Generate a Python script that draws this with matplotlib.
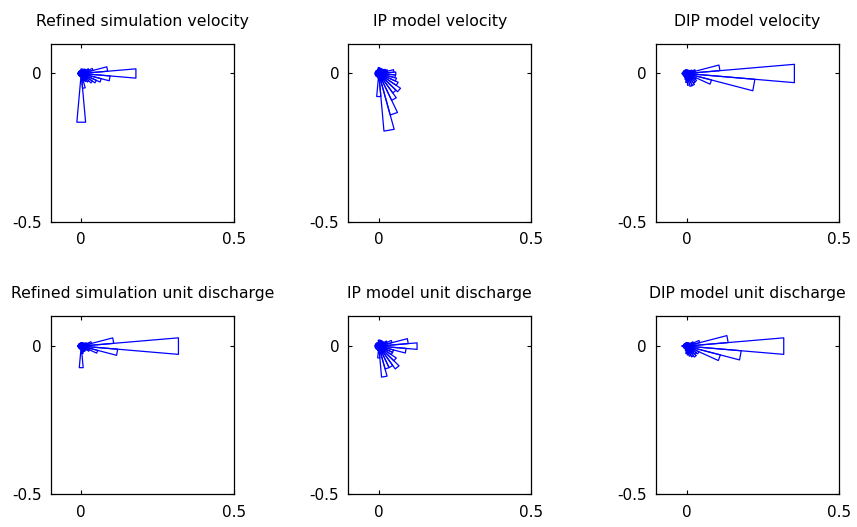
import numpy as np
import matplotlib.pyplot as plt

# ==========================
# DATA (rose histograms, 36 bins of 10 deg, centres 0..350 deg ccw from east)
# ==========================

bin_centres_deg = list(range(0, 360, 10))
bin_width_deg = 10

titles = [
    "Refined simulation velocity",
    "IP model velocity",
    "DIP model velocity",
    "Refined simulation unit discharge",
    "IP model unit discharge",
    "DIP model unit discharge",
]

refined_velocity = [
    0.18, 0.087, 0.040, 0.028, 0.020, 0.018, 0.016, 0.015, 0.014, 0.015,
    0.010, 0.010, 0.010, 0.010, 0.010, 0.010, 0.010, 0.010, 0.012, 0.010,
    0.010, 0.010, 0.010, 0.010, 0.010, 0.010, 0.012, 0.165, 0.050, 0.025,
    0.030, 0.035, 0.045, 0.055, 0.068, 0.095,
]

ip_velocity = [
    0.056, 0.050, 0.030, 0.025, 0.020, 0.018, 0.018, 0.018, 0.018, 0.020,
    0.015, 0.012, 0.012, 0.012, 0.012, 0.012, 0.012, 0.012, 0.012, 0.012,
    0.012, 0.012, 0.012, 0.012, 0.012, 0.012, 0.015, 0.078, 0.195, 0.145,
    0.100, 0.080, 0.087, 0.070, 0.060, 0.055,
]

dip_velocity = [
    0.355, 0.110, 0.030, 0.020, 0.015, 0.012, 0.012, 0.012, 0.012, 0.012,
    0.012, 0.012, 0.012, 0.012, 0.012, 0.012, 0.012, 0.012, 0.015, 0.012,
    0.012, 0.012, 0.012, 0.012, 0.012, 0.015, 0.020, 0.030, 0.040, 0.045,
    0.045, 0.040, 0.040, 0.035, 0.085, 0.225,
]

refined_discharge = [
    0.320, 0.107, 0.035, 0.020, 0.015, 0.012, 0.012, 0.012, 0.012, 0.012,
    0.010, 0.010, 0.010, 0.010, 0.010, 0.010, 0.010, 0.010, 0.012, 0.010,
    0.010, 0.010, 0.010, 0.010, 0.010, 0.010, 0.012, 0.073, 0.025, 0.020,
    0.020, 0.020, 0.020, 0.030, 0.056, 0.120,
]

ip_discharge = [
    0.126, 0.097, 0.045, 0.030, 0.020, 0.020, 0.020, 0.020, 0.020, 0.020,
    0.012, 0.012, 0.012, 0.012, 0.012, 0.012, 0.012, 0.012, 0.012, 0.012,
    0.012, 0.012, 0.012, 0.012, 0.012, 0.012, 0.015, 0.040, 0.105, 0.080,
    0.080, 0.094, 0.070, 0.050, 0.050, 0.090,
]

dip_discharge = [
    0.320, 0.137, 0.045, 0.025, 0.015, 0.012, 0.012, 0.012, 0.012, 0.012,
    0.010, 0.010, 0.010, 0.010, 0.010, 0.010, 0.010, 0.010, 0.015, 0.010,
    0.010, 0.010, 0.010, 0.010, 0.010, 0.010, 0.015, 0.025, 0.030, 0.035,
    0.040, 0.045, 0.040, 0.045, 0.115, 0.180,
]

panels = [
    refined_velocity, ip_velocity, dip_velocity,
    refined_discharge, ip_discharge, dip_discharge,
]

x_ticks = [0, 0.5]
x_tick_labels = ["0", "0.5"]
y_ticks = [-0.5, 0]
y_tick_labels = ["-0.5", "0"]

# ==========================
# PLOT
# ==========================

fig = plt.figure(figsize=(8.57, 5.27), dpi=100)

col_x = [0.0592, 0.4064, 0.7655]
row_y = [0.5793, 0.0620]
ax_w = 0.2135
ax_h = 0.3375

for i, (title, radii) in enumerate(zip(titles, panels)):
    ax = fig.add_axes([col_x[i % 3], row_y[i // 3], ax_w, ax_h])

    half = np.deg2rad(bin_width_deg / 2)
    for centre, r in zip(bin_centres_deg, radii):
        a = np.deg2rad(centre)
        xs = [0, r * np.cos(a - half), r * np.cos(a + half), 0]
        ys = [0, r * np.sin(a - half), r * np.sin(a + half), 0]
        ax.plot(xs, ys, color="#0000ff", linewidth=0.9)

    ax.set_xlim(-0.1, 0.5)
    ax.set_ylim(-0.5, 0.1)
    ax.set_xticks(x_ticks)
    ax.set_xticklabels(x_tick_labels)
    ax.set_yticks(y_ticks)
    ax.set_yticklabels(y_tick_labels)
    ax.tick_params(direction="in", top=True, right=True, length=3,
                   width=0.8, labelsize=11)
    ax.tick_params(axis="x", pad=7.5)
    ax.tick_params(axis="y", pad=6.5)
    for s in ax.spines.values():
        s.set_linewidth(0.9)

    ax.set_title(title, fontsize=11.3, pad=13)

plt.savefig("out.png", dpi=100)
plt.close()
